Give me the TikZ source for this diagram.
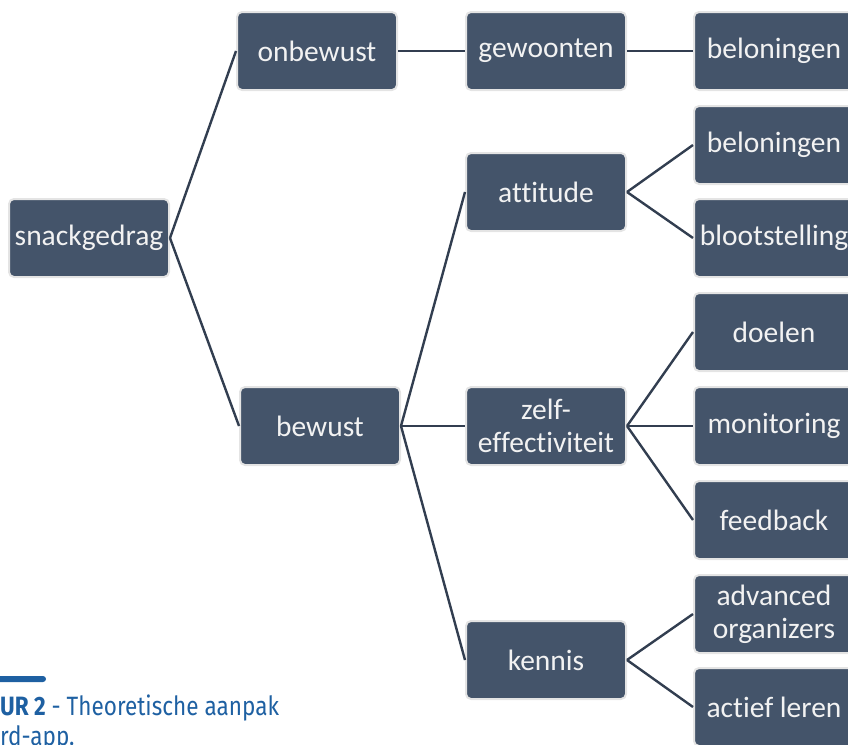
\documentclass[tikz,border=0pt]{standalone}
\usepackage{fontspec}
\setmainfont{Carlito}[Ligatures={NoCommon,NoRare}]
\newfontfamily\capfont[FakeStretch=0.85]{Fira Sans}
\usetikzlibrary{positioning}
\definecolor{boxfill}{RGB}{68,84,106}
\definecolor{boxedge}{RGB}{228,228,228}
\definecolor{linkcol}{RGB}{50,62,80}
\definecolor{capblue}{RGB}{30,96,162}

\begin{document}
\begin{tikzpicture}[x=1pt,y=-1pt,
        box/.style={draw=boxedge, line width=2pt, fill=boxfill, text=white!95!black,
            rounded corners=5pt, minimum width=160pt, minimum height=78pt,
            inner sep=0pt, align=center, font=\fontsize{29.5}{33}\selectfont},
        link/.style={draw=linkcol, line width=2.4pt},
        captext/.style={anchor=base west, inner sep=0pt, text=capblue,
            font=\capfont\fontsize{26.5}{30}\selectfont}]
        \useasboundingbox (0,0) rectangle (848,744);
        \clip (0,0) rectangle (848,744);
        % left part of the tree
        \node[box] (snack) at (89,238) {snackgedrag};
        \node[box] (onbewust) at (317,51) {onbewust};
        \node[box] (bewust) at (320,426) {bewust};
        % middle column
        \node[box] (gewoonten) at (546,51) {gewoonten};
        \node[box] (attitude) at (546,192) {attitude};
        \node[box] (zelf) at (546,426) {zelf-\\effectiviteit};
        \node[box] (kennis) at (546,660) {kennis};
        % right column
        \node[box] (belon1) at (774,51) {beloningen};
        \node[box] (belon2) at (774,145) {beloningen};
        \node[box] (bloot) at (774,238) {blootstelling};
        \node[box] (doelen) at (774,332) {doelen};
        \node[box] (monitor) at (774,426) {monitoring};
        \node[box] (feedback) at (774,520) {feedback};
        \node[box] (advanced) at (774,614) {advanced\\organizers};
        \node[box] (actief) at (774,707) {actief leren};
        % connectors
        \draw[link] (snack.east) -- (onbewust.west);
        \draw[link] (snack.east) -- (bewust.west);
        \draw[link] (onbewust.east) -- (gewoonten.west);
        \draw[link] (gewoonten.east) -- (belon1.west);
        \draw[link] (bewust.east) -- (attitude.west);
        \draw[link] (bewust.east) -- (zelf.west);
        \draw[link] (bewust.east) -- (kennis.west);
        \draw[link] (attitude.east) -- (belon2.west);
        \draw[link] (attitude.east) -- (bloot.west);
        \draw[link] (zelf.east) -- (doelen.west);
        \draw[link] (zelf.east) -- (monitor.west);
        \draw[link] (zelf.east) -- (feedback.west);
        \draw[link] (kennis.east) -- (advanced.west);
        \draw[link] (kennis.east) -- (actief.west);
        % caption
        \fill[capblue, rounded corners=3pt] (-10,676) rectangle (46,682);
        \node[captext] (cap1) at (0,715) {\textbf{UR 2} - Theoretische aanpak};
        \node[captext] (cap2) at (0,745) {rd-app.};
\end{tikzpicture}
\end{document}
